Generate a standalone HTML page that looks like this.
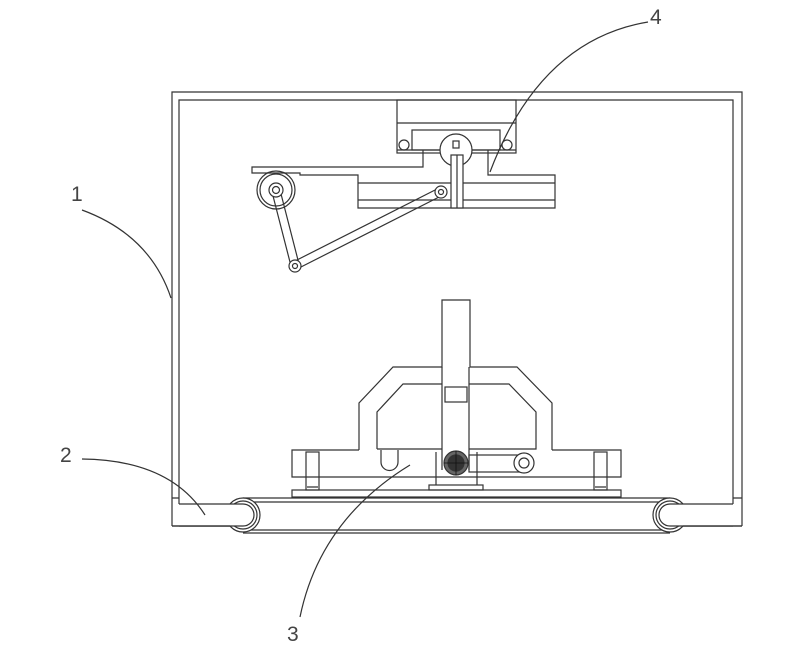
<!DOCTYPE html>
<html><head><meta charset="utf-8"><style>
html,body{margin:0;padding:0;background:#fff;}
svg{display:block;}
text{font-family:"Liberation Sans",sans-serif;font-size:21px;fill:#444;}
</style></head><body>
<svg width="807" height="649" viewBox="0 0 807 649" xmlns="http://www.w3.org/2000/svg" fill="none" stroke="#333" stroke-width="1.2">
<!-- frame -->
<path d="M172 526 V92 H742 V526"/>
<path d="M179 504 V100 H733 V504"/>
<path d="M172 498 H179 M733 498 H742"/>
<path d="M172 526 H230 M742 526 H683"/>
<!-- belt -->
<path d="M243 498 H670 M243 502 H670 M243 530 H670 M243 533 H670"/>
<circle cx="243" cy="515" r="17" fill="#fff"/><circle cx="243" cy="515" r="14"/>
<circle cx="670" cy="515" r="17" fill="#fff"/><circle cx="670" cy="515" r="14"/>
<path d="M179 504 H243 A11 11 0 0 1 243 526 H179" fill="#fff"/>
<path d="M733 504 H670 A11 11 0 0 0 670 526 H733" fill="#fff"/>
<path d="M172 526 H230 M742 526 H683"/>
<!-- base -->
<rect x="292" y="490" width="329" height="7"/>
<path d="M359 450 H292 V477 H621 V450 H552"/>
<rect x="306" y="452" width="13" height="38"/><rect x="594" y="452" width="13" height="38"/>
<path d="M307 487 h11 M595 487 h11"/>
<!-- arch -->
<path d="M359 450 V403 L393 367 H442 V300 H470 V367 H517 L552 403 V450"/>
<path d="M377 449 V412 L403 384 H442 M469 384 H509 L536 412 V449 H469 M377 449 H442"/>
<path d="M442 367 V470 M469 367 V470"/>
<rect x="445" y="387" width="22" height="15"/>
<path d="M381 450 V462 A8 8 0 0 0 398 462 V450"/>
<rect x="469" y="455" width="51" height="17"/>
<circle cx="524" cy="463" r="10" fill="#fff"/><circle cx="524" cy="463" r="5"/>
<path d="M436 452 V485 M477 452 V485"/>
<rect x="429" y="485" width="54" height="5"/>
<circle cx="456" cy="463" r="12" fill="#666"/><circle cx="456" cy="463" r="8" fill="#333"/>
<path d="M444 463 h24 M456 451 v24" stroke="#111" stroke-width="0.8"/>
<!-- top section -->
<rect x="397" y="100" width="119" height="53"/>
<path d="M397 123 H516"/>
<rect x="412" y="130" width="88" height="20"/>
<path d="M397 150 H516"/>
<circle cx="404" cy="145" r="5"/><circle cx="507" cy="145" r="5"/>
<path d="M423 150 V167 H252 V173 H300 V175 H358 V208 H555 V175 H488 V150"/>
<path d="M358 183 H555 M358 200 H555"/>
<circle cx="456" cy="150" r="16" fill="#fff"/>
<rect x="451" y="155" width="12" height="53" fill="#fff"/>
<path d="M457 155 V208"/>
<rect x="453" y="141" width="6" height="7"/>
<circle cx="276" cy="190" r="19"/><circle cx="276" cy="190" r="16"/>
<path d="M272 192 L291 266 M280 190 L299 264" />
<path d="M293 262 L439 188 M297 269 L443 195"/>
<circle cx="276" cy="190" r="7" fill="#fff"/><circle cx="276" cy="190" r="3.5"/>
<circle cx="441" cy="192" r="6" fill="#fff"/><circle cx="441" cy="192" r="2.5"/>
<circle cx="295" cy="266" r="6" fill="#fff"/><circle cx="295" cy="266" r="2.5"/>
<!-- leaders -->
<path d="M82 210 Q150 235 171 298"/>
<path d="M82 459 Q170 460 205 515"/>
<path d="M300 617 Q320 520 410 465"/>
<path d="M648 22 Q540 40 490 172"/>
<text x="71" y="201" stroke="none">1</text>
<text x="60" y="462" stroke="none">2</text>
<text x="287" y="641" stroke="none">3</text>
<text x="650" y="24" stroke="none">4</text>
</svg>
</body></html>
